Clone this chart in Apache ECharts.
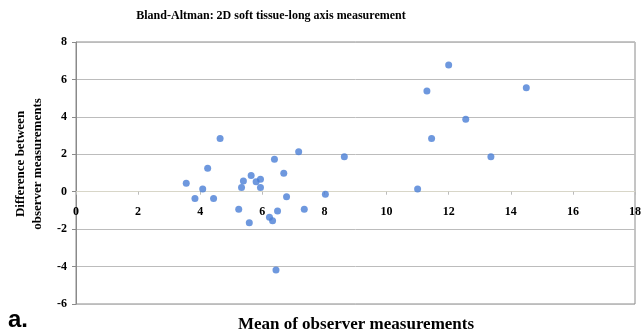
<!DOCTYPE html>
<html>
<head>
<meta charset="utf-8">
<script src="https://cdn.jsdelivr.net/npm/echarts@6/dist/echarts.min.js"></script>
<style>html,body{margin:0;padding:0;background:#fff}#c{width:644px;height:334px}</style>
</head>
<body>
<div id="c"></div>
<script>
const chartTitle = 'Bland-Altman: 2D soft tissue-long axis measurement';
const xTitle = 'Mean of observer measurements';
const yTitle = 'Difference between\nobserver measurements';
const panelLabel = 'a.';
const xTicks = [0, 2, 4, 6, 8, 10, 12, 14, 16, 18];
const yTicks = [-6, -4, -2, 0, 2, 4, 6, 8];
const meanVals = [3.55, 3.83, 4.08, 4.24, 4.43, 4.64, 5.24, 5.33, 5.39, 5.64, 5.80, 5.94, 5.94, 5.58, 6.23, 6.33, 6.49, 6.39, 6.69, 6.78, 7.17, 7.35, 8.03, 8.64, 6.44, 12.00, 11.30, 14.50, 12.55, 11.45, 13.36, 11.00];
const diffVals = [0.45, -0.36, 0.14, 1.25, -0.36, 2.85, -0.94, 0.23, 0.57, 0.86, 0.53, 0.66, 0.23, -1.66, -1.37, -1.55, -1.03, 1.73, 0.98, -0.27, 2.14, -0.94, -0.14, 1.87, -4.18, 6.77, 5.38, 5.56, 3.87, 2.85, 1.87, 0.14];

const points = meanVals.map((m, i) => [m, diffVals[i]]);
const serif = 'Liberation Serif';
const gridTop = 42, gridBottom = 30, chartH = 334;
const gridH = chartH - gridTop - gridBottom;
const yMin = yTicks[0], yMax = yTicks[yTicks.length - 1];
// the x axis crosses the y axis at 0, labels sit next to it
const xAxisOffset = -gridH * (0 - yMin) / (yMax - yMin);

const chart = echarts.init(document.getElementById('c'), null, {renderer: 'canvas'});
chart.setOption({
  animation: false,
  backgroundColor: '#fff',
  grid: {left: 76, right: 8, top: gridTop, bottom: gridBottom, show: true, borderColor: '#8a8a8a', borderWidth: 1},
  xAxis: {
    type: 'value', min: xTicks[0], max: xTicks[xTicks.length - 1], interval: xTicks[1] - xTicks[0],
    position: 'bottom', offset: xAxisOffset,
    axisLine: {show: true, onZero: false, lineStyle: {color: '#d8d6c8', width: 1}},
    axisTick: {show: true, length: 3, inside: false, lineStyle: {color: '#bbb'}},
    axisLabel: {margin: 14, fontFamily: serif, fontWeight: 'bold', fontSize: 12, color: '#000'},
    splitLine: {show: false}
  },
  yAxis: {
    type: 'value', min: yMin, max: yMax, interval: yTicks[1] - yTicks[0],
    axisLine: {show: true, onZero: false, lineStyle: {color: '#8a8a8a'}},
    axisTick: {show: true, length: 4, lineStyle: {color: '#8a8a8a'}},
    axisLabel: {margin: 9, fontFamily: serif, fontWeight: 'bold', fontSize: 12, color: '#000'},
    splitLine: {show: true, lineStyle: {color: '#bcbcbc', width: 1}}
  },
  graphic: [
    {type: 'text', x: 271, y: 16, style: {text: chartTitle, font: 'bold 12px "Liberation Serif"', fill: '#000', textAlign: 'center', textVerticalAlign: 'middle'}},
    {type: 'text', x: 356, y: 325, style: {text: xTitle, font: 'bold 17px "Liberation Serif"', fill: '#000', textAlign: 'center', textVerticalAlign: 'middle'}},
    {type: 'text', x: 29, y: 164, rotation: Math.PI / 2, style: {text: yTitle, font: 'bold 13px "Liberation Serif"', fill: '#000', textAlign: 'center', textVerticalAlign: 'middle', lineHeight: 17}},
    {type: 'text', x: 8, y: 320, style: {text: panelLabel, font: 'bold 24px "Liberation Sans"', fill: '#000', textVerticalAlign: 'middle'}}
  ],
  series: [{
    type: 'scatter', data: points, symbol: 'circle', symbolSize: 7,
    itemStyle: {color: '#4a7ed6'}
  }]
});
</script>
</body>
</html>
